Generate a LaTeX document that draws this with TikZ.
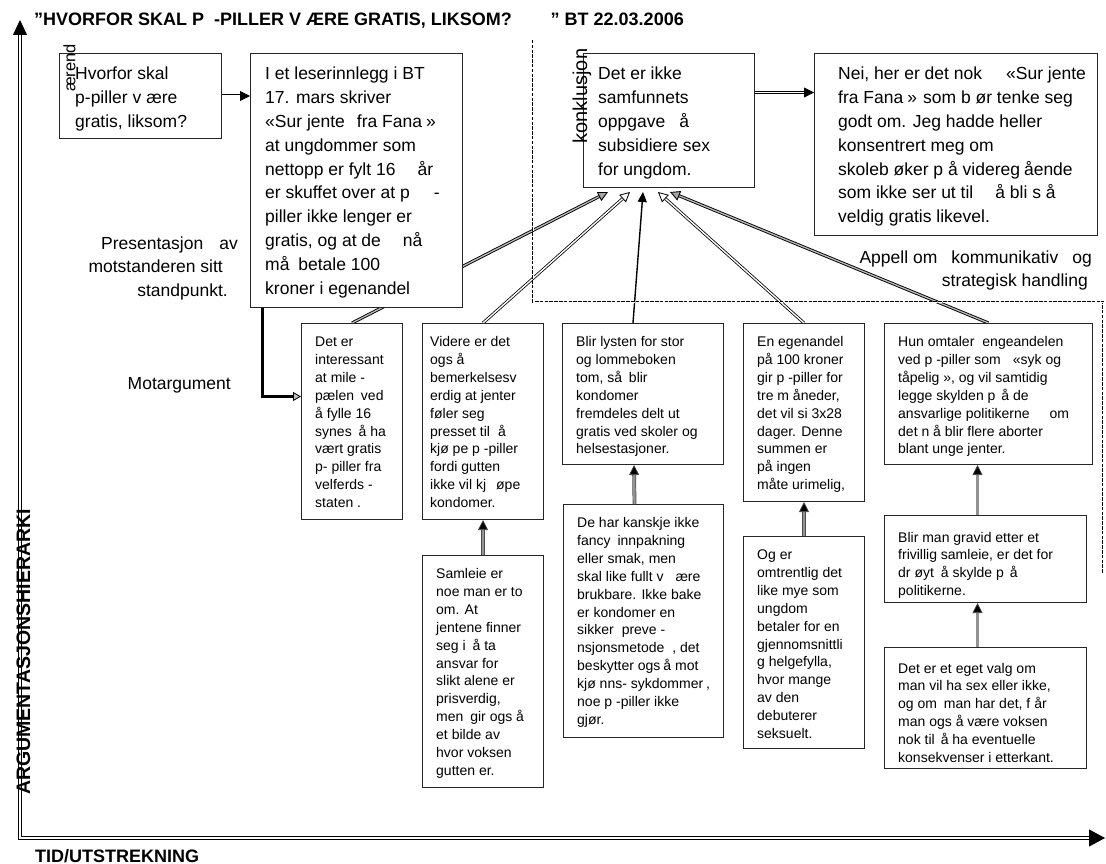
\documentclass[tikz,border=0pt]{standalone}
\usepackage{fontspec}
\setmainfont{Liberation Sans}
\usetikzlibrary{arrows.meta}
\pgfdeclarelayer{background}
\pgfsetlayers{background,main}

\newcommand{\bigtxt}{\fontsize{17.5}{23.8}\selectfont}
\newcommand{\smalltxt}{\fontsize{14}{17.9}\selectfont}
\newcommand{\headtxt}{\fontsize{18}{22}\selectfont\bfseries}
\newcommand{\leftlines}[1]{\parbox[t]{300pt}{\raggedright #1}}
\newcommand{\rightlines}[1]{\parbox[t]{300pt}{\raggedleft #1}}

\begin{document}
\begin{tikzpicture}[x=1pt, y=-1pt,
  box/.style={draw=black!85, line width=1pt, fill=white, inner sep=0pt, anchor=north west},
  btxt/.style={anchor=base west, inner sep=0pt, font=\bigtxt},
  stxt/.style={anchor=base west, inner sep=0pt, font=\smalltxt},
  rtxt/.style={anchor=base east, inner sep=0pt, font=\bigtxt},
  head/.style={inner sep=0pt, font=\headtxt},
  axis/.style={draw=black, line width=0.9pt, double=white, double distance=1.5pt, line join=miter},
  dashline/.style={draw=black, line width=0.9pt, double=white, double distance=0.6pt, dash pattern=on 3.5pt off 1.3pt},
  dconn/.style={draw=black, line width=0.8pt, double=white, double distance=1.4pt},
  darkconn/.style={draw=black, line width=0.9pt, double=gray!55, double distance=1.3pt},
  gconn/.style={draw=black!70, line width=0.7pt, double=gray!85, double distance=2.4pt, -{Triangle[length=10pt,width=10pt,fill=black]}},
  sconn/.style={draw=black, line width=1.4pt},
  elbow/.style={draw=black, line width=3.5pt, -{Triangle[length=8pt,width=9pt,fill=gray!50,line width=0.8pt]}}
]
\useasboundingbox (0,0) rectangle (1106,864);

% ---------- title ----------
\node[head, anchor=base west] (title) at (34,26) {”HVORFOR SKAL P\hspace{10pt}-PILLER V ÆRE GRATIS, LIKSOM?};
\node[head, anchor=base east] (date) at (684,26) {” BT 22.03.2006};

% ---------- axes ----------
\coordinate (ytop) at (20,20);
\coordinate (orig) at (20,838);
\coordinate (xend) at (1105,838);
\draw[axis, {Triangle[length=15pt,width=14pt]}-{Triangle[length=16pt,width=17pt]}] (ytop) -- (orig) -- (xend);
\node[head, rotate=90, font=\fontsize{19.5}{22}\selectfont\bfseries] (yaxis) at (23.5,652) {ARGUMENTASJONSHIERARKI};
\node[head, anchor=base west] (xaxis) at (35,862) {TID/UTSTREKNING};

% ---------- dashed frame around the conclusion ----------
\coordinate (f1) at (533,40);
\coordinate (f2) at (533,302);
\coordinate (f3) at (1103,302);
\coordinate (f4) at (1103,573);
\draw[dashline] (f1) -- (f2) -- (f3) -- (f4);

% ---------- top row ----------
\node[box, minimum width=162pt, minimum height=85pt] (a) at (59,53) {};
\node[btxt] (atext) at (75,80) {\leftlines{Hvorfor skal\\p-piller v\hspace{5pt}ære\\gratis, liksom?}};
\node[rotate=90, inner sep=0pt, font=\fontsize{16.5}{20}\selectfont] (aerend) at (69.5,68) {ærend};

\node[box, minimum width=212pt, minimum height=254pt] (b) at (250,53) {};
\node[btxt] (btext) at (265,80) {\leftlines{I et leserinnlegg i BT\\17. mars skriver\\«Sur jente\hspace{12pt}fra Fana\hspace{4pt}»\\at ungdommer som\\nettopp er fylt 16\hspace{22pt}år\\er skuffet over at p\hspace{24pt}-\\piller ikke lenger er\\gratis, og at de\hspace{22pt}nå\\må\hspace{4pt} betale 100\\kroner i egenandel}};

\node[box, minimum width=171pt, minimum height=134pt] (c) at (583,53) {};
\node[btxt] (ctext) at (598,80) {\leftlines{Det er ikke\\samfunnets\\oppgave\hspace{14pt}å\\subsidiere sex\\for ungdom.}};
\node[rotate=90, inner sep=0pt, font=\fontsize{20}{24}\selectfont] (konkl) at (582,96) {konklusjon};

\node[box, minimum width=283pt, minimum height=182pt] (d) at (814,53) {};
\node[btxt] (dtext) at (838,80) {\leftlines{Nei, her er det nok\hspace{24pt}«Sur jente\\fra Fana\hspace{4pt}»\hspace{6pt}som b ør tenke seg\\godt om. Jeg hadde heller\\konsentrert meg om\\skoleb øker p å videreg\hspace{4pt}ående\\som ikke ser ut til\hspace{22pt}å bli s å\\veldig gratis likevel.}};

\node[rtxt] (pres) at (238,249) {\rightlines{Presentasjon\hspace{16pt}av\\motstanderen sitt\kern15pt\\standpunkt.\kern10pt}};
\node[rtxt] (appell) at (1092,263) {\rightlines{Appell om\hspace{14pt}kommunikativ\hspace{14pt}og\\strategisk handling\kern4pt}};
\node[rtxt] (motarg) at (231,389) {Motargument};

% ---------- second row ----------
\node[box, minimum width=101pt, minimum height=196pt] (e1) at (301,323) {};
\node[stxt] (e1text) at (315,346.5) {\leftlines{Det er\\interessant\\at mile -\\pælen\hspace{3pt} ved\\å fylle 16\\synes\hspace{3pt} å ha\\vært gratis\\p- piller fra\\velferds -\\staten .}};

\node[box, minimum width=121pt, minimum height=196pt] (e2) at (422,323) {};
\node[stxt] (e2text) at (430,346.5) {\leftlines{Videre er det\\ogs å\\bemerkelsesv\\erdig at jenter\\føler seg\\presset til\hspace{8pt}å\\kjø pe p -piller\\fordi gutten\\ikke vil kj\hspace{10pt}øpe\\kondomer.}};

\node[box, minimum width=161pt, minimum height=141pt] (e3) at (562,323) {};
\node[stxt] (e3text) at (576,346.5) {\leftlines{Blir lysten for stor\\og lommeboken\\tom, så\hspace{3pt} blir\\kondomer\\fremdeles delt ut\\gratis ved skoler og\\helsestasjoner.}};

\node[box, minimum width=121pt, minimum height=178pt] (e4) at (743,323) {};
\node[stxt] (e4text) at (757,346.5) {\leftlines{En egenandel\\på 100 kroner\\gir p -piller for\\tre m åneder,\\det vil si 3x28\\dager. Denne\\summen er\\på ingen\\måte urimelig,}};

\node[box, minimum width=208pt, minimum height=141pt] (e5) at (884,323) {};
\node[stxt] (e5text) at (898,346.5) {\leftlines{Hun omtaler\hspace{8pt}engeandelen\\ved p -piller som\hspace{12pt}«syk og\\tåpelig », og vil samtidig\\legge skylden p\hspace{6pt}å de\\ansvarlige politikerne\hspace{20pt}om\\det n å blir flere aborter\\blant unge jenter.}};

% ---------- third row ----------
\node[box, minimum width=121pt, minimum height=232pt] (f2b) at (422,555) {};
\node[stxt] (f2text) at (436,578.5) {\leftlines{Samleie er\\noe man er to\\om. At\\jentene finner\\seg i\hspace{3pt} å ta\\ansvar for\\slikt alene er\\prisverdig,\\men\hspace{3pt} gir ogs å\\et bilde av\\hvor voksen\\gutten er.}};

\node[box, minimum width=160pt, minimum height=233pt] (f3b) at (563,504) {};
\node[stxt] (f3text) at (577,527.5) {\leftlines{De har kanskje ikke\\fancy\hspace{3pt} innpakning\\eller smak, men\\skal like fullt v\hspace{12pt}ære\\brukbare. Ikke bake\\er kondomer en\\sikker\hspace{8pt}preve -\\nsjonsmetode\hspace{8pt}, det\\beskytter ogs\hspace{3pt}å mot\\kjø nns- sykdommer\hspace{3pt},\\noe p -piller ikke\\gjør.}};

\node[box, minimum width=121pt, minimum height=212pt] (f4b) at (743,536) {};
\node[stxt] (f4text) at (757,559.5) {\leftlines{Og er\\omtrentlig det\\like mye som\\ungdom\\betaler for en\\gjennomsnittli\\g helgefylla,\\hvor mange\\av den\\debuterer\\seksuelt.}};

\node[box, minimum width=202pt, minimum height=87pt] (f5b) at (884,515) {};
\node[stxt] (f5text) at (898,542) {\leftlines{Blir man gravid etter et\\frivillig samleie, er det for\\dr øyt\hspace{3pt} å skylde p\hspace{6pt}å\\politikerne.}};

\node[box, minimum width=202pt, minimum height=121pt] (g5b) at (884,647) {};
\node[stxt] (g5text) at (898,673) {\leftlines{Det er et eget valg om\\man vil ha sex eller ikke,\\og om\hspace{3pt} man har det, f år\\man ogs å være voksen\\nok til\hspace{6pt}å ha eventuelle\\konsekvenser i etterkant.}};

% ---------- connectors ----------
\draw[dconn, -{Triangle[length=10pt,width=10pt]}] (a.east) -- (a.east -| b.west);
\draw[dconn, -{Triangle[length=10pt,width=10pt]}] ([yshift=28pt]c.east) coordinate (cd) -- (cd -| d.west);
\draw[elbow] ([xshift=-94pt]b.south) |- ([yshift=25pt]e1.west);

\begin{pgfonlayer}{background}
  \draw[darkconn, -{Triangle[length=10pt,width=10pt,fill=gray!70]}] (e1.north) -- ([xshift=25pt,yshift=-4pt]c.south west);
  \draw[dconn, -{Triangle[length=10pt,width=10pt,fill=white]}] (e2.north) -- ([xshift=47pt,yshift=-4pt]c.south west);
  \draw[sconn, -{Triangle[length=10pt,width=9pt]}] ([xshift=-10pt]e3.north) -- ([xshift=60pt,yshift=-4pt]c.south west);
  \draw[dconn, -{Triangle[length=10pt,width=10pt,fill=white]}] (e4.north) -- ([xshift=75pt,yshift=-4pt]c.south west);
  \draw[darkconn, -{Triangle[length=10pt,width=10pt,fill=gray!70]}] (e5.north) -- ([xshift=87pt,yshift=-4pt]c.south west);
\end{pgfonlayer}

\draw[gconn] (f2b.north) -- (e2.south);
\draw[gconn] ([xshift=-9pt]f3b.north) -- ([xshift=-9pt]e3.south);
\draw[gconn] (f4b.north) -- (e4.south);
\draw[gconn] ([xshift=-8pt]f5b.north) -- ([xshift=-11pt]e5.south);
\draw[gconn] ([xshift=-8pt]g5b.north) -- ([xshift=-8pt]f5b.south);
\end{tikzpicture}
\end{document}
